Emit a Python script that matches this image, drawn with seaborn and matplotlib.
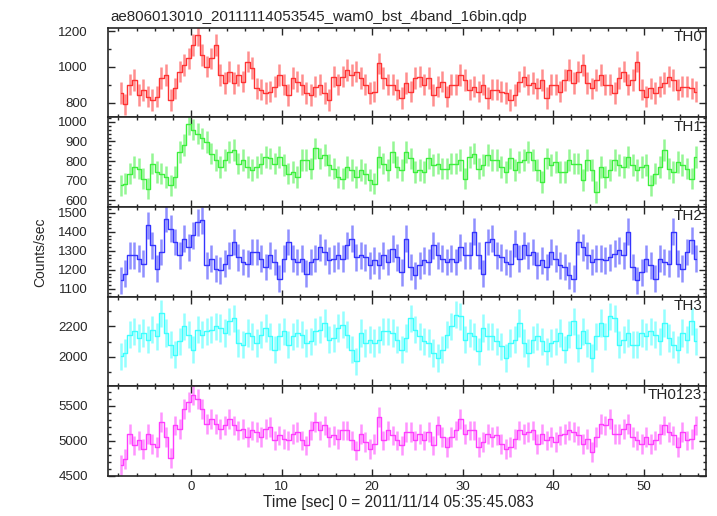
import numpy as np
import pandas as pd
import matplotlib
matplotlib.use('Agg')
import matplotlib.pyplot as plt
import seaborn as sns
from matplotlib.ticker import MultipleLocator

# light curve bins: 0.5 s wide, from -8 s to 56 s
time = np.arange(128) * 0.5 - 7.75

th0 = [853, 790, 900, 927, 843, 870, 834, 815, 834, 937,
       955, 815, 880, 974, 1011, 1048, 1123, 1179, 1067, 1002,
       1048, 1123, 955, 909, 974, 909, 955, 918, 1030, 993,
       880, 872, 853, 862, 890, 955, 900, 843, 937, 918,
       900, 853, 843, 890, 900, 853, 815, 946, 900, 946,
       983, 955, 974, 937, 900, 853, 862, 1020, 937, 900,
       900, 872, 825, 909, 862, 937, 946, 900, 937, 843,
       890, 918, 834, 900, 900, 955, 927, 872, 890, 862,
       900, 825, 872, 872, 862, 853, 815, 843, 918, 946,
       900, 909, 880, 927, 825, 900, 900, 862, 927, 983,
       909, 974, 1011, 909, 880, 927, 955, 900, 900, 853,
       937, 974, 900, 927, 1030, 872, 834, 880, 853, 890,
       909, 946, 927, 872, 890, 890, 880, 862]

th1 = [676, 685, 736, 770, 761, 710, 659, 787, 744, 736,
       719, 676, 719, 847, 881, 990, 960, 940, 915, 898,
       838, 804, 770, 804, 847, 855, 787, 804, 770, 753,
       770, 787, 821, 813, 787, 821, 779, 736, 744, 719,
       804, 804, 761, 864, 813, 830, 779, 761, 719, 710,
       770, 753, 719, 753, 736, 702, 685, 821, 787, 753,
       847, 770, 753, 847, 813, 744, 753, 744, 813, 779,
       787, 761, 761, 787, 787, 804, 710, 821, 838, 761,
       779, 830, 804, 804, 770, 744, 813, 753, 796, 804,
       847, 804, 753, 693, 813, 779, 796, 744, 744, 804,
       787, 787, 702, 804, 753, 642, 770, 719, 753, 804,
       779, 770, 821, 779, 753, 770, 779, 676, 736, 770,
       855, 761, 744, 796, 779, 761, 710, 821]

th2 = [1144, 1179, 1276, 1276, 1259, 1232, 1435, 1329, 1206, 1294,
       1470, 1417, 1347, 1276, 1364, 1320, 1382, 1450, 1461, 1223,
       1259, 1206, 1197, 1232, 1276, 1347, 1267, 1241, 1232, 1294,
       1294, 1259, 1215, 1276, 1241, 1153, 1259, 1347, 1259, 1241,
       1259, 1179, 1241, 1259, 1320, 1294, 1250, 1259, 1276, 1259,
       1329, 1364, 1267, 1276, 1267, 1223, 1250, 1223, 1276, 1241,
       1311, 1267, 1188, 1364, 1215, 1170, 1223, 1250, 1241, 1329,
       1276, 1259, 1241, 1259, 1241, 1320, 1276, 1276, 1400, 1276,
       1179, 1347, 1364, 1276, 1267, 1241, 1232, 1338, 1259, 1329,
       1276, 1294, 1223, 1250, 1215, 1294, 1259, 1223, 1215, 1170,
       1153, 1347, 1320, 1276, 1241, 1259, 1259, 1250, 1267, 1285,
       1302, 1276, 1400, 1215, 1144, 1188, 1259, 1223, 1153, 1259,
       1241, 1232, 1400, 1232, 1206, 1294, 1355, 1259]

th3 = [2002, 2024, 2145, 2167, 2123, 2156, 2112, 2178, 2134, 2288,
       2156, 2079, 2013, 2101, 2200, 2145, 2046, 2178, 2145, 2167,
       2178, 2200, 2189, 2156, 2233, 2255, 2090, 2079, 2156, 2134,
       2090, 2145, 2189, 2134, 2046, 2134, 2167, 2079, 2134, 2156,
       2145, 2090, 2101, 2167, 2178, 2222, 2112, 2123, 2189, 2211,
       2145, 2046, 1969, 2156, 2090, 2112, 2090, 2112, 2167, 2167,
       2156, 2112, 2046, 2123, 2255, 2178, 2134, 2101, 2090, 2024,
       1991, 2046, 2145, 2200, 2277, 2266, 2112, 2156, 2134, 2035,
       2189, 2134, 2134, 2101, 2068, 1991, 2090, 2112, 2222, 2090,
       2024, 2112, 2134, 2101, 2035, 2090, 2101, 2156, 2046, 2145,
       2233, 2057, 2167, 2090, 1991, 2134, 2222, 2134, 2266, 2255,
       2079, 2112, 2156, 2079, 2079, 2156, 2134, 2167, 2145, 2101,
       2222, 2123, 2079, 2046, 2156, 2112, 2233, 2101]

th0123 = [4648, 4743, 5100, 4933, 5005, 4886, 5100, 4957, 4910, 5267,
          5052, 4750, 5219, 5171, 5457, 5552, 5650, 5600, 5457, 5243,
          5314, 5243, 5171, 5219, 5314, 5219, 5148, 5171, 5052, 5148,
          5124, 5052, 5171, 5195, 5005, 5076, 5029, 5005, 5100, 5124,
          5005, 4933, 5148, 5267, 5148, 5219, 5052, 5076, 5029, 5148,
          5148, 5005, 4862, 5100, 4981, 4886, 4957, 5338, 5005, 5148,
          5076, 5005, 4933, 5124, 5124, 5005, 5100, 5005, 5124, 4933,
          5219, 5052, 4910, 5052, 5148, 5314, 5100, 5148, 5148, 4910,
          4981, 5100, 5052, 5076, 4957, 4886, 4910, 5029, 5148, 5100,
          5124, 5148, 4957, 5100, 5005, 5052, 4981, 5076, 5100, 5148,
          5124, 5076, 4957, 5029, 4838, 5052, 5243, 5219, 5314, 5100,
          5100, 5171, 5243, 5052, 5005, 4957, 5052, 4957, 5005, 5100,
          5219, 5124, 5076, 4910, 5124, 5005, 5029, 5219]

bands = ['TH0', 'TH1', 'TH2', 'TH3', 'TH0123']
series = [th0, th1, th2, th3, th0123]
errors = [60, 55, 71, 90, 141]   # typical error bar half-length per band
colors = ['#ff3232', '#3cf03c', '#3434ff', '#3cffff', '#ff3cff']
ylims = [(718, 1219), (566, 1023), (1059, 1532), (1805, 2398), (4500, 5781)]
major = [200, 100, 100, 200, 500]
minor = [100, 20, 20, 100, 100]

df = pd.concat([pd.DataFrame({'time': time, 'rate': s, 'band': b})
                for s, b in zip(series, bands)], ignore_index=True)

sns.set_style('ticks')
plt.rcParams['font.family'] = ['Liberation Sans', 'DejaVu Sans']

fig = plt.figure(figsize=(7.17, 5.16), dpi=100)
axes = fig.subplots(5, 1, sharex=True, gridspec_kw=dict(hspace=0))
fig.subplots_adjust(left=0.1506, right=0.9847, top=0.9463, bottom=0.0781)

for i, (ax, band) in enumerate(zip(axes, bands)):
    d = df[df['band'] == band]
    ax.errorbar(d['time'], d['rate'], yerr=errors[i], fmt='none',
                ecolor=colors[i], alpha=0.55, elinewidth=1.8, capsize=0)
    sns.lineplot(data=d, x='time', y='rate', ax=ax, color=colors[i],
                 drawstyle='steps-mid', lw=1.0, estimator=None)
    ax.set_xlim(-9.15, 56.85)
    ax.set_ylim(*ylims[i])
    ax.yaxis.set_major_locator(MultipleLocator(major[i]))
    ax.yaxis.set_minor_locator(MultipleLocator(minor[i]))
    ax.xaxis.set_major_locator(MultipleLocator(10))
    ax.xaxis.set_minor_locator(MultipleLocator(2))
    ax.tick_params(which='both', direction='in', top=True, right=True,
                   labelsize=9.5, width=1)
    ax.tick_params(which='major', length=5)
    ax.tick_params(which='minor', length=2.5)
    ax.tick_params(axis='y', which='major', pad=14.5)
    ax.tick_params(axis='x', which='major', pad=4)
    ax.set_ylabel('')
    ax.set_xlabel('')
    for sp in ax.spines.values():
        sp.set_linewidth(1.2)
    ax.text(0.994, 0.975, band, transform=ax.transAxes, ha='right', va='top',
            fontsize=11)

fig.text(398 / 717, 1 - 507.5 / 516, 'Time [sec] 0 = 2011/11/14 05:35:45.083',
         ha='center', va='baseline', fontsize=11.2)
fig.text(110 / 717, 1 - 21 / 516, 'ae806013010_20111114053545_wam0_bst_4band_16bin.qdp',
         ha='left', va='baseline', fontsize=10.9)
fig.text(40.5 / 717, 1 - 252 / 516, 'Counts/sec', rotation=90, ha='center', va='center',
         fontsize=10)

fig.savefig('out.png', dpi=100)
